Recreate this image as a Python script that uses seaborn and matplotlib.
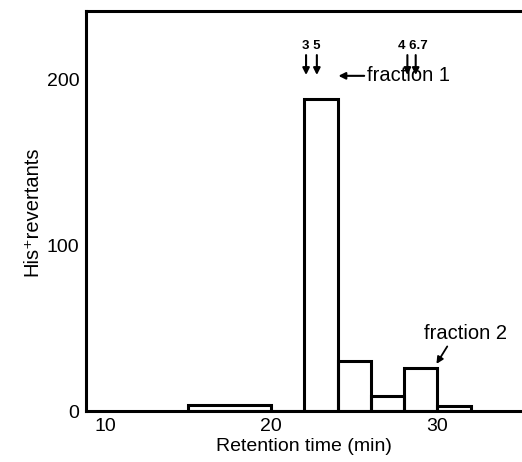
import matplotlib
matplotlib.use("Agg")
import matplotlib.pyplot as plt
import seaborn as sns
import numpy as np
import pandas as pd

# Data
bin_edges = [15, 20, 22, 24, 26, 28, 30, 32]
revertants = [4, 0, 188, 30, 9, 26, 3]
x_ticks = [10, 20, 30]
y_ticks = [0, 100, 200]
peak_labels = ["3 5", "4 6.7"]

centers = [(a + b) / 2 for a, b in zip(bin_edges[:-1], bin_edges[1:])]
df = pd.DataFrame({"time": centers, "count": revertants})

sns.set_theme(style="white")
plt.rcParams['font.family'] = ['Liberation Sans', 'DejaVu Sans']
plt.rcParams['text.color'] = 'black'

fig = plt.figure(figsize=(5.22, 4.62), dpi=100)
ax = fig.add_axes([0.165, 0.110, 0.835, 0.866])

sns.histplot(data=df, x="time", weights="count", bins=bin_edges,
             element="bars", fill=False, color="black", linewidth=2.2, ax=ax)

ax.set_xlim(8.86, 35.1)
ax.set_ylim(0, 241)
ax.set_xticks(x_ticks)
ax.set_yticks(y_ticks)
ax.tick_params(axis="both", labelsize=14, colors="black", length=3, width=1.5, direction="out")
ax.tick_params(axis="x", length=0, pad=5)
ax.tick_params(axis="y", pad=2)

for s in ["left", "bottom", "top"]:
    ax.spines[s].set_visible(True)
    ax.spines[s].set_color("black")
    ax.spines[s].set_linewidth(2.2)
ax.spines["right"].set_visible(False)

ax.set_xlabel("Retention time (min)", fontsize=14, color="black", labelpad=2)
ax.set_ylabel("His\u207Arevertants", fontsize=14.5, color="black", labelpad=4)

# Peak arrows
arrow_kw = dict(arrowstyle="-|>", color="black", lw=1.5, mutation_scale=10,
                shrinkA=0, shrinkB=0)
for xp in [22.1, 22.75, 28.2, 28.7]:
    ax.annotate("", xy=(xp, 202.5), xytext=(xp, 214.5), arrowprops=arrow_kw)
ax.text(22.42, 216.5, peak_labels[0], ha="center", va="bottom", fontsize=9.5,
        fontweight="bold", color="black")
ax.text(28.55, 216.5, peak_labels[1], ha="center", va="bottom", fontsize=9.5,
        fontweight="bold", color="black")

# Fraction annotations
ax.text(25.75, 202, "fraction 1", fontsize=14.5, va="center", ha="left", color="black")
ax.annotate("", xy=(24.05, 202), xytext=(25.6, 202),
            arrowprops=dict(arrowstyle="-|>", color="black", lw=1.5, mutation_scale=10,
                            shrinkA=0, shrinkB=0))
ax.text(29.2, 47, "fraction 2", fontsize=14.5, va="center", ha="left", color="black")
ax.annotate("", xy=(29.95, 28.5), xytext=(30.6, 39),
            arrowprops=dict(arrowstyle="-|>", color="black", lw=1.3, mutation_scale=10,
                            shrinkA=0, shrinkB=0))

fig.savefig("out.png", dpi=100)
